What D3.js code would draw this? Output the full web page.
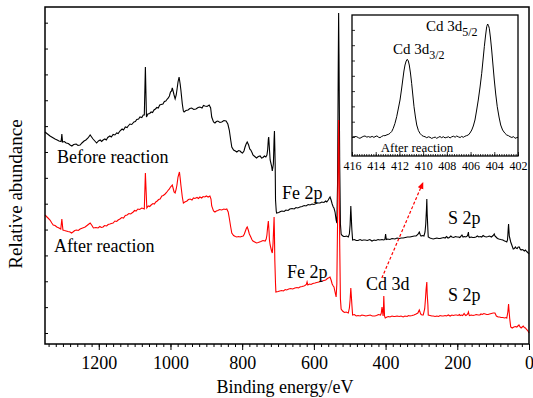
<!DOCTYPE html>
<html>
<head>
<meta charset="utf-8">
<script src="https://cdn.jsdelivr.net/npm/d3@7"></script>
<style>
    body { margin: 0; background: #fff; }
    svg { display: block; }
    svg text { font-family: 'Liberation Serif', 'Times New Roman', serif !important; fill: #000; }
</style>
</head>
<body>
<main id="holder"></main>
<script>
// survey spectra, [binding energy (eV), intensity (a.u.)]
const beforeReaction = [
    [1350,212],[1343,210],[1336,208],[1329,206.5],[1322,205],[1316,204],[1311,203],[1305,202.5],[1303,210],[1301,202],
    [1296,202.5],[1291,201],[1285,200.5],[1280,199],[1275,198],[1270,199.5],[1263,200],[1258,198.5],[1252,199],[1247,201],
    [1241,203],[1236,204],[1230,206],[1224,209],[1220,207],[1216,205],[1211,203],[1206,201],[1201,203],[1196,204],
    [1192,202.5],[1188,204],[1183,205],[1179,204],[1175,206.5],[1169,208],[1165,207],[1160,209.5],[1155,209],[1150,211],
    [1146,210.5],[1141,213],[1135,215],[1131,214],[1126,217],[1121,216.5],[1118,218],[1113,220],[1108,219.5],[1102,222],
    [1098,222.5],[1094,224.5],[1089,225],[1085,227],[1080,226.5],[1076,229],[1073,229],[1070,277],[1067,227],[1063,230],
    [1058,230.5],[1054,232],[1050,231.5],[1046,234],[1042,235],[1038,236.5],[1034,236],[1030,239],[1026,239.5],[1021,240],
    [1017,242.5],[1013,243],[1009,245],[1006,246],[1003,248],[1000,252],[997,253],[995,256],[992,252],[990,249],
    [987,245],[984,249],[982,254],[979,262],[976,267],[973,260],[971,254],[967,240],[964,233],[962,232],
    [957,233.5],[951,234],[946,235.5],[941,236],[935,234.5],[929,235],[923,236.5],[918,237],[912,236],[908,238.5],
    [904,238],[898,237.5],[892,239],[888,236],[885,227],[880,222],[876,221],[872,222.5],[868,223],[862,221.5],
    [857,222],[851,223.5],[845,223],[840,220],[836,214],[832,204],[829,197],[824,194],[819,193],[815,192],
    [810,193.5],[806,193],[802,191.5],[799,191],[795,193],[792,197],[789,200],[786,202],[782,199],[779,195],
    [776,194],[772,191],[770,189],[765,187.5],[760,186],[755,187.5],[750,188],[746,186],[742,186.5],[738,188],
    [734,187],[731,189],[729,194],[727,205],[726,207],[724,195],[722,184],[720,181],[718,178],[716,173],
    [713,180],[711,205],[710,213],[708,180],[707,144],[705,133],[704,131],[698,131.5],[693,132.5],[689,133],
    [683,132.5],[678,134],[672,133.5],[667,135],[661,135.5],[655,135],[650,136.5],[645,136],[639,137],[633,137.5],
    [627,138.5],[622,138],[616,139.5],[611,139],[605,140],[600,139.5],[594,140.5],[589,141],[583,141],[578,142],
    [572,141.5],[567,143],[564,142],[560,144],[557,146],[555,147],[552,144],[549,140],[546,137],[544,136],
    [541,132],[538,124],[536,121],[534,160],[532,280],[531,331],[530,290],[528,180],[526,120],[524,110],
    [521,108.5],[517,107.5],[513,107.5],[509,108],[504,107],[501,110],[499,119],[497,138],[495,121],[494,114],
    [492,104],[487,104.5],[482,103.5],[477,103.5],[471,104.5],[466,103.5],[462,104],[457,104],[451,103.5],[444,104.5],
    [438,103],[432,104],[427,103.5],[421,104.5],[416,104],[410,104.5],[405,104],[402,104.5],[400,110],[398,104.5],
    [394,105],[388,104.5],[382,105.5],[374,105],[368,106],[362,105.5],[356,106],[351,106],[345,106.5],[339,107],
    [332,107],[326,107.5],[320,108],[315,108],[310,109.5],[306,112],[303,109],[301,108],[297,108.5],[293,108],
    [290,112],[288,120],[286,135],[285,145],[284,130],[282,114],[281,107],[276,106],[272,105.5],[267,105],
    [262,105.5],[257,106],[252,105.5],[248,105.5],[243,106],[238,106.5],[234,106],[230,107.5],[226,106],[222,106.5],
    [218,108],[215,107],[210,106.5],[205,107.5],[201,107],[197,107],[193,106.5],[189,108],[187,109],[184,107],
    [180,107.5],[176,107],[172,108],[170,110],[169,112],[168,108],[166,106.5],[161,107],[157,106.5],[153,106.5],
    [148,107],[144,108],[140,107],[136,107.5],[132,107],[128,108.5],[124,107.5],[119,107],[114,107.5],[110,108],
    [105,107],[100,108.5],[97,110],[95,108],[92,107],[88,105.5],[84,105],[79,104.5],[73,104],[68,103],
    [64,102.5],[62,102],[60,104],[59,109],[58,115],[57,120],[56,114],[55,108],[53,105],[51,102],
    [48,99],[44,95],[41,95.5],[38,97],[36,96],[33,95.5],[30,97],[27,97],[25,95],[22,94],
    [19,94.5],[16,94],[13,93],[10,94],[8,93],[5,92],[2,91],[0,90]
];

const afterReaction = [
    [1350,129],[1343,126.5],[1336,124],[1331,121],[1327,119],[1322,118.5],[1317,117],[1311,116],[1306,115],[1303,125],
    [1300,114],[1296,113.5],[1291,113],[1286,112.5],[1280,112],[1276,111],[1272,112],[1267,113.5],[1262,114],[1257,113.5],
    [1252,115],[1245,116],[1238,117],[1231,119],[1224,121],[1219,118.5],[1215,116],[1208,116.5],[1202,116],[1197,117.5],
    [1193,116.5],[1188,117],[1184,118.5],[1178,118],[1174,119.5],[1169,120],[1165,120.5],[1160,121],[1155,123],[1150,122.5],
    [1146,124],[1141,125],[1136,126.5],[1131,126],[1126,128.5],[1121,129],[1116,130.5],[1111,130],[1104,132],[1100,133.5],
    [1096,133],[1091,135],[1086,134.5],[1080,136],[1076,135.5],[1073,135],[1070,171],[1066,136],[1062,138],[1058,137.5],
    [1054,139],[1049,140.5],[1045,140],[1041,142],[1037,143],[1033,144.5],[1029,145],[1024,148],[1020,148.5],[1015,150],
    [1011,151.5],[1006,154],[1003,155],[1000,157],[997,158],[995,159],[992,155],[990,152],[987,151],[984,155],
    [982,159],[979,167],[975,172],[973,166],[971,159],[967,147],[964,141],[960,142],[954,143],[950,144.5],
    [945,145],[940,144],[936,146],[932,145.5],[926,146.5],[922,145.5],[918,147],[913,146],[909,147.5],[904,147],
    [900,148],[895,147],[890,148],[887,145],[885,138],[880,133],[876,132],[872,133],[868,133.5],[863,134.5],
    [857,134],[851,135],[847,134.5],[843,135],[839,132],[836,126],[832,117],[829,111],[824,108.5],[819,107.5],
    [815,107],[810,107.5],[806,107],[802,107.5],[797,108],[794,110],[791,113],[788,116],[786,117],[783,114],
    [780,110],[776,107],[773,104.5],[770,103],[765,102],[760,101],[755,101.5],[748,102.5],[742,103.5],[736,103],
    [733,105],[731,109],[729,117],[727,123],[725,112],[724,104],[722,99],[720,96],[718,93],[716,91],
    [714,100],[712,118],[711,127],[710,110],[709,84],[707,60],[706,52],[700,52.5],[695,53],[690,53.5],
    [685,53],[680,54.5],[676,54],[670,55],[665,55.5],[659,55],[653,56],[647,56.5],[643,56],[639,57],
    [633,57.5],[628,58],[625,58.5],[621,59.5],[619,62],[617,59],[612,60],[608,59.5],[603,60.5],[597,61],
    [592,61.5],[586,62],[581,62.5],[577,63],[572,63.5],[567,64],[564,65],[560,66],[557,66.5],[555,67],
    [552,64],[549,60],[546,58],[544,57],[541,52],[538,47],[536,60],[534,120],[532,190],[531,224],
    [530,200],[528,100],[526,45],[524,35],[520,33],[515,31.5],[510,32],[504,31],[501,36],[499,44],
    [497,56],[495,45],[494,39],[492,29],[487,29.5],[482,28],[477,28.5],[471,28],[466,29],[460,28.5],
    [455,28],[449,28.5],[443,29],[437,28],[430,28],[425,28.5],[420,29.5],[414,29],[412,31],[410,37],
    [408,31],[407,28],[406,35],[405,48],[404,38],[403,28],[401,26],[396,27],[392,27.5],[388,27],
    [382,28],[377,27.5],[374,27.5],[368,28],[362,27.5],[357,28],[351,27],[346,28],[340,27.5],[336,28.5],
    [332,28],[326,28.5],[321,29],[315,30],[310,31],[306,34],[303,31],[301,29.5],[298,29],[295,29],
    [291,35],[289,44],[287,55],[285,62],[284,50],[282,39],[281,29],[276,28.5],[271,28],[267,28],
    [262,27.5],[257,28],[252,27.5],[248,28.5],[243,28],[239,28],[234,28.5],[230,28],[225,29],[220,28],
    [215,29],[211,28.5],[206,29],[202,29],[198,28.5],[194,29.5],[192,28.5],[188,29],[185,28.5],[181,30.5],
    [178,29],[176,28.5],[172,29.5],[170,31],[169,32],[167,29],[166,28.5],[161,29],[156,28.5],[151,29],
    [147,29.5],[142,29],[137,29],[134,30],[130,29.5],[126,30.5],[122,30],[118,29.5],[114,29.5],[110,30],
    [105,30.5],[100,31],[95,31],[91,28],[86,27],[82,27],[78,26.5],[73,26.5],[68,26],[64,26.5],
    [62,26],[60,30],[59,32],[57,40],[56,35],[54,26],[52,20],[51,17],[47,16],[42,17],
    [38,17.5],[34,17],[31,18],[28,19],[25,17],[22,16],[19,17],[16,18],[13,16.5],[10,16],
    [8,15],[5,14],[2,12.5],[0,11]
];

// high resolution Cd 3d region (inset)
const cd3d = [
    [416.0,18.7],[415.8,19.5],[415.6,19.3],[415.45,18.2],[415.33,17.7],[415.15,19],[415.0,19.8],[414.9,20],[414.75,18.9],[414.6,19.4],
    [414.48,18.7],[414.3,19.6],[414.15,18.6],[414.06,19.3],[413.9,20.1],[413.75,18.7],[413.64,18.3],[413.5,19.5],[413.35,20.4],[413.22,20.3],
    [413.05,21.2],[412.9,21.8],[412.8,22.7],[412.65,24.5],[412.52,27.7],[412.38,32.5],[412.23,39.3],[412.1,47],[411.95,56],[411.82,67],
    [411.72,76],[411.62,85],[411.53,91],[411.43,95],[411.34,96.7],[411.25,95],[411.17,91],[411.07,83],[410.97,72.7],[410.87,61],
    [410.77,49.3],[410.65,39],[410.54,31],[410.4,25.5],[410.27,22.7],[410.1,20.5],[409.95,19.6],[409.84,19.3],[409.7,18.3],[409.55,19.2],
    [409.42,18.7],[409.28,17.6],[409.13,18.4],[408.98,18.9],[408.86,17.7],[408.72,18.6],[408.58,19.5],[408.44,18.3],[408.3,19.3],[408.15,18.1],
    [408.0,18.7],[407.85,19.2],[407.73,18],[407.6,19.1],[407.45,19.8],[407.3,18.8],[407.17,20],[407.02,19.1],[406.88,18.5],[406.75,19.6],
    [406.61,18.7],[406.48,19.7],[406.33,20.4],[406.19,21],[406.05,23],[405.9,26],[405.77,30],[405.63,36],[405.5,45],[405.35,56],
    [405.2,69],[405.06,82.7],[404.95,96],[404.84,109.3],[404.74,120],[404.64,129.3],[404.56,132],[404.49,130.5],[404.42,127.7],[404.32,118],
    [404.22,106],[404.11,91],[404.0,76],[403.88,62],[403.75,49.3],[403.6,39],[403.46,31],[403.3,26],[403.1,22.7],[402.95,21],
    [402.8,20.3],[402.67,19.3],[402.52,18.5],[402.38,19.4],[402.25,17.7],[402.1,18.4],[402.0,18.7]
];

const xTickLabels = [1200, 1000, 800, 600, 400, 200, 0];
const insetTickLabels = [416, 414, 412, 410, 408, 406, 404, 402];
// arrow from the Cd 3d signal up to the inset, [eV, a.u.]
const cdArrow = [[410.5, 66], [295, 162]];

const serif = "'Liberation Serif', 'Times New Roman', serif";
const w = 533;
const h = 398;
const plot = { left: 45, right: 529, top: 7, bottom: 344 };
const box = { left: 352, right: 518, top: 15, bottom: 156 };

const svg = d3.select('#holder')
    .append('svg')
    .attr('width', w)
    .attr('height', h)
    .attr('font-family', serif)
    .style('background', '#fff');

const xScale = d3.scaleLinear().domain([1350, 0]).range([plot.left, plot.right]);
const yScale = d3.scaleLinear().domain([0, 337]).range([plot.bottom, plot.top]);

const line = d3.line()
    .x(d => xScale(d[0]))
    .y(d => yScale(d[1]));

// bottom axis: minor every 20 eV, major every 200 eV
svg.append('g')
    .attr('transform', 'translate(0,' + plot.bottom + ')')
    .call(d3.axisBottom(xScale).tickValues(d3.range(0, 1341, 20)).tickSize(3).tickFormat(''))
    .call(g => g.select('.domain').remove());

svg.append('g')
    .attr('transform', 'translate(0,' + plot.bottom + ')')
    .call(d3.axisBottom(xScale).tickValues(xTickLabels).tickSize(6).tickPadding(6).tickFormat(d3.format('d')))
    .call(g => g.select('.domain').remove())
    .call(g => g.attr('font-family', serif).attr('font-size', 18));

// y axis: inward ticks, no labels
svg.append('g')
    .attr('transform', 'translate(' + plot.left + ',0)')
    .call(d3.axisRight(yScale).tickValues(d3.range(11, 330, 25.86)).tickSize(3).tickFormat(''))
    .call(g => g.select('.domain').remove());

svg.selectAll('.tick line').attr('stroke', '#000').attr('stroke-width', 1);

svg.append('path')
    .datum(beforeReaction)
    .attr('fill', 'none')
    .attr('stroke', '#000')
    .attr('stroke-width', 1.1)
    .attr('d', line);

svg.append('path')
    .datum(afterReaction)
    .attr('fill', 'none')
    .attr('stroke', '#ff0000')
    .attr('stroke-width', 1.1)
    .attr('d', line);

svg.append('rect')
    .attr('x', plot.left)
    .attr('y', plot.top)
    .attr('width', plot.right - plot.left)
    .attr('height', plot.bottom - plot.top)
    .attr('fill', 'none')
    .attr('stroke', '#000')
    .attr('stroke-width', 1.5);

// arrow
svg.append('defs')
    .append('marker')
    .attr('id', 'head')
    .attr('markerUnits', 'userSpaceOnUse')
    .attr('markerWidth', 8)
    .attr('markerHeight', 7)
    .attr('refX', 7)
    .attr('refY', 3)
    .attr('orient', 'auto')
    .append('path')
    .attr('d', 'M0,0 L7,3 L0,6 Z')
    .attr('fill', '#ff0000');

svg.append('line')
    .attr('x1', xScale(cdArrow[0][0]))
    .attr('y1', yScale(cdArrow[0][1]))
    .attr('x2', xScale(cdArrow[1][0]))
    .attr('y2', yScale(cdArrow[1][1]))
    .attr('stroke', '#ff0000')
    .attr('stroke-width', 1.2)
    .attr('stroke-dasharray', '3,2')
    .attr('marker-end', 'url(#head)');

// labels
const labels = [
    ['Before reaction', 57, 163],
    ['After reaction', 54, 252],
    ['Fe 2p', 282, 199],
    ['Fe 2p', 287, 278],
    ['Cd 3d', 366, 290],
    ['S 2p', 448, 224],
    ['S 2p', 448, 301]
];
svg.selectAll('.lbl')
    .data(labels)
    .enter()
    .append('text')
    .attr('class', 'lbl')
    .attr('x', d => d[1])
    .attr('y', d => d[2])
    .style('font-size', '18px')
    .text(d => d[0]);

svg.append('text')
    .attr('transform', 'translate(22,194) rotate(-90)')
    .attr('text-anchor', 'middle')
    .style('font-size', '19px')
    .text('Relative abundance');

svg.append('text')
    .attr('x', 285)
    .attr('y', 393)
    .attr('text-anchor', 'middle')
    .style('font-size', '18px')
    .text('Binding energy/eV');

// inset
const ix = d3.scaleLinear().domain([416, 402]).range([box.left, box.right]);
const iy = d3.scaleLinear().domain([0, 141]).range([box.bottom, box.top]);

const inset = svg.append('g');

inset.append('rect')
    .attr('x', box.left)
    .attr('y', box.top)
    .attr('width', box.right - box.left)
    .attr('height', box.bottom - box.top)
    .attr('fill', '#fff');

inset.append('g')
    .attr('transform', 'translate(0,' + box.bottom + ')')
    .call(d3.axisBottom(ix).tickValues(d3.range(402, 416.01, 0.2)).tickSizeInner(-2).tickSizeOuter(0).tickFormat(''))
    .call(g => g.select('.domain').remove());

inset.append('g')
    .attr('transform', 'translate(0,' + box.bottom + ')')
    .call(d3.axisBottom(ix).tickValues(insetTickLabels).tickSizeInner(-4).tickSizeOuter(0).tickPadding(5))
    .call(g => g.select('.domain').remove())
    .call(g => g.attr('font-family', serif).attr('font-size', 12));

inset.append('g')
    .attr('transform', 'translate(' + box.left + ',0)')
    .call(d3.axisRight(iy).tickValues(d3.range(19, 135, 15.3)).tickSize(3).tickFormat(''))
    .call(g => g.select('.domain').remove());

inset.selectAll('.tick line').attr('stroke', '#000').attr('stroke-width', 0.8);

inset.append('path')
    .datum(cd3d)
    .attr('fill', 'none')
    .attr('stroke', '#000')
    .attr('stroke-width', 1)
    .attr('d', d3.line().x(d => ix(d[0])).y(d => iy(d[1])));

inset.append('rect')
    .attr('x', box.left)
    .attr('y', box.top)
    .attr('width', box.right - box.left)
    .attr('height', box.bottom - box.top)
    .attr('fill', 'none')
    .attr('stroke', '#000')
    .attr('stroke-width', 1.3);

const cdLabels = [['Cd 3d', '5/2', 426, 31], ['Cd 3d', '3/2', 393, 54]];
cdLabels.forEach(d => {
    const t = inset.append('text')
        .attr('x', d[2])
        .attr('y', d[3])
        .style('font-size', '15px');
    t.append('tspan').text(d[0]);
    t.append('tspan').attr('dy', 5).style('font-size', '12px').text(d[1]);
});

inset.append('text')
    .attr('x', 417)
    .attr('y', 152)
    .attr('text-anchor', 'middle')
    .style('font-size', '13px')
    .text('After reaction');
</script>
</body>
</html>
